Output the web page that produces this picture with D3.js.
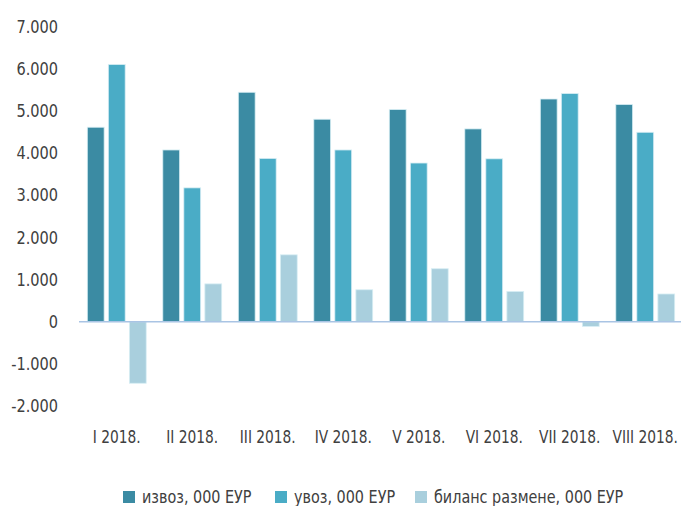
<!DOCTYPE html>
<html>
<head>
<meta charset="utf-8">
<script src="https://cdn.jsdelivr.net/npm/d3@7"></script>
<style>
   body { margin: 0; background: #fff; }
   svg text { font-family: "DejaVu Sans"; font-stretch: condensed; fill: #404040; }
</style>
</head>
<body>
<svg id="chart" width="681" height="506"></svg>
<script>
const months = ["I 2018.", "II 2018.", "III 2018.", "IV 2018.", "V 2018.", "VI 2018.", "VII 2018.", "VIII 2018."];
const series = ["извоз, 000 ЕУР", "увоз, 000 ЕУР", "биланс размене, 000 ЕУР"];
const izvoz = [4620, 4080, 5450, 4810, 5040, 4580, 5290, 5160];
const uvoz = [6110, 3180, 3880, 4080, 3770, 3870, 5420, 4500];
const bilans = [-1460, 900, 1590, 760, 1260, 720, -110, 660];
const yTicks = [-2000, -1000, 0, 1000, 2000, 3000, 4000, 5000, 6000, 7000];
const colors = ["#3b8ba3", "#4aacc6", "#a9cfdd"];

const values = [izvoz, uvoz, bilans];
const svg = d3.select("#chart");
const loc = d3.formatLocale({ decimal: ",", thousands: ".", grouping: [3], currency: ["", ""], minus: "-" });
const fmt = loc.format(",d");

const x0 = d3.scaleBand().domain(months).range([79, 683]).paddingInner(0.22).paddingOuter(0.11);
const x1 = d3.scaleBand().domain(d3.range(3)).range([0, x0.bandwidth()]).paddingInner(0.2);
const y = d3.scaleLinear().domain([-2000, 7000]).range([406, 27]);

// sazima tekst da lici na uski font iz originala
function narrow(sel, k) {
   sel.each(function () {
      const w = this.getComputedTextLength();
      d3.select(this).attr("textLength", w * k).attr("lengthAdjust", "spacingAndGlyphs");
   });
}

// y labels
svg.append("g")
   .attr("transform", "translate(58,0)")
   .call(d3.axisLeft(y).tickValues(yTicks).tickFormat(fmt).tickSize(0).tickPadding(0))
   .call(g => g.select(".domain").remove())
   .selectAll("text")
   .attr("font-size", 17)
   .attr("font-family", null)
   .call(narrow, 0.95);

// bars
months.forEach((m, i) => {
   values.forEach((arr, s) => {
      const v = arr[i];
      svg.append("rect")
         .attr("x", x0(m) + x1(s))
         .attr("y", y(Math.max(0, v)))
         .attr("width", x1.bandwidth())
         .attr("height", Math.abs(y(v) - y(0)))
         .attr("fill", colors[s])
         .attr("stroke", "#d8eef4")
         .attr("stroke-width", 0.8);
   });
});

// zero line
svg.append("line")
   .attr("x1", 79).attr("x2", 681)
   .attr("y1", y(0)).attr("y2", y(0))
   .attr("stroke", "#a9c4e4")
   .attr("stroke-width", 1.5);

// x labels
svg.append("g")
   .attr("transform", "translate(0,437)")
   .call(d3.axisBottom(x0).tickSize(0).tickPadding(0))
   .call(g => g.select(".domain").remove())
   .selectAll("text")
   .attr("font-size", 17)
   .attr("dy", "0.35em")
   .attr("font-family", null)
   .call(narrow, 0.9);

// legend
const legX = [123, 275, 415];
series.forEach((s, i) => {
   svg.append("rect")
      .attr("x", legX[i]).attr("y", 491)
      .attr("width", 12).attr("height", 12)
      .attr("fill", colors[i]);
   svg.append("text")
      .attr("x", legX[i] + 19).attr("y", 497)
      .attr("dy", "0.35em")
      .attr("font-size", 17)
      .text(s)
      .call(narrow, 0.94);
});
</script>
</body>
</html>
